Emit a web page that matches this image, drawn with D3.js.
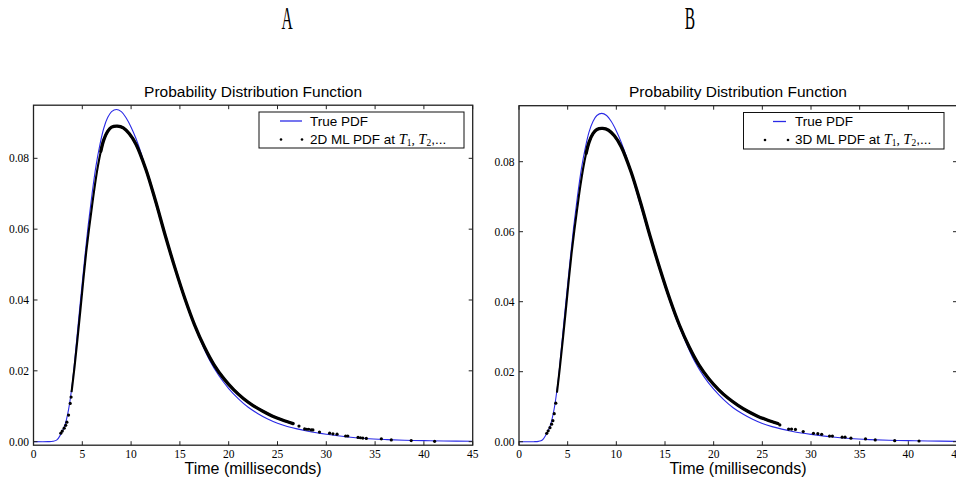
<!DOCTYPE html>
<html lang="en">
<head>
<meta charset="UTF-8">
<title>Probability Distribution Function</title>
<script src="https://d3js.org/d3.v7.min.js"></script>
<style>
  body { margin: 0; background: #fff; }
  svg { display: block; }
</style>
</head>
<body>
<svg id="chart" width="956" height="478"></svg>
<script>
// ---- data ----
const timeTicks = [0, 5, 10, 15, 20, 25, 30, 35, 40, 45];
const pdfTicks = [0, 0.02, 0.04, 0.06, 0.08];

// true PDF (same curve in both panels)
const trueT = [0, 1.5, 2.0, 2.4, 2.8, 3.2, 3.6, 4.0, 4.4, 4.8, 5.2, 5.6, 6.0, 6.4, 6.8, 7.2, 7.6, 8.0, 8.5, 9.0, 9.5, 10, 10.5, 11, 12, 13, 14, 15, 16, 17, 18, 19, 20, 21, 22, 23, 24, 25, 26, 27, 28, 29, 30, 32, 34, 36, 38, 40, 42, 45];
const trueV = [0, 0, 0.0001, 0.0005, 0.0021, 0.0045, 0.0092, 0.0170, 0.0280, 0.0395, 0.0505, 0.0610, 0.0700, 0.0778, 0.0838, 0.0885, 0.0915, 0.0932, 0.0938, 0.0932, 0.0914, 0.0888, 0.0856, 0.0817, 0.0722, 0.0626, 0.0533, 0.0443, 0.0362, 0.0293, 0.0232, 0.0186, 0.0150, 0.0121, 0.0097, 0.0079, 0.0064, 0.0052, 0.0043, 0.0036, 0.0030, 0.0025, 0.0021, 0.0014, 0.0009, 0.0006, 0.0004, 0.0003, 0.0002, 0.0001];

// ML estimate, dense part (samples so close they form a band)
const bandT = [3.9, 4.2, 4.5, 4.8, 5.1, 5.4, 5.7, 6.0, 6.3, 6.6, 6.9, 7.2, 7.6, 8.0, 8.6, 9.2, 9.8, 10.5, 11.5, 12.5, 13.5, 14.5, 15.5, 16.5, 17.5, 18.5, 19.5, 20.5, 21.5, 22.5, 23.5, 24.5, 25.5, 26.6];
const bandA = [0.0140, 0.0210, 0.0288, 0.0370, 0.0455, 0.0535, 0.0603, 0.0666, 0.0726, 0.0778, 0.0820, 0.0852, 0.0876, 0.0888, 0.0891, 0.0886, 0.0870, 0.0840, 0.0770, 0.0680, 0.0582, 0.0490, 0.0405, 0.0330, 0.0268, 0.0217, 0.0178, 0.0147, 0.0122, 0.0102, 0.0086, 0.0072, 0.0061, 0.0051];
const bandB = [0.0140, 0.0212, 0.0291, 0.0373, 0.0458, 0.0538, 0.0607, 0.0670, 0.0730, 0.0782, 0.0824, 0.0856, 0.0880, 0.0892, 0.0895, 0.0890, 0.0874, 0.0843, 0.0772, 0.0682, 0.0584, 0.0492, 0.0407, 0.0332, 0.0270, 0.0219, 0.0180, 0.0149, 0.0124, 0.0104, 0.0087, 0.0073, 0.0062, 0.0052];

// ML estimate, isolated samples (rising edge and tail)
const dotsAT = [2.80, 2.95, 3.14, 3.30, 3.42, 3.59, 3.76, 3.85, 27.2, 27.78, 28.0, 28.2, 28.46, 28.63, 29.3, 30.34, 30.68, 31.1, 31.98, 32.2, 33.25, 33.5, 33.74, 34.1, 35.64, 36.66, 38.7, 41.1];
const dotsAV = [0.0024, 0.0030, 0.0038, 0.0046, 0.0055, 0.0075, 0.0108, 0.0126, 0.0044, 0.0036, 0.0035, 0.0035, 0.0033, 0.0033, 0.0027, 0.0024, 0.0022, 0.0021, 0.0016, 0.0016, 0.0012, 0.0011, 0.0010, 0.0009, 0.0008, 0.0005, 0.0003, 0.0001];
const dotsBT = [2.85, 3.0, 3.18, 3.35, 3.48, 3.62, 3.78, 26.8, 27.7, 28.0, 28.4, 29.2, 30.25, 30.7, 31.1, 31.9, 32.2, 33.2, 33.5, 34.1, 35.6, 36.6, 38.6, 41.1];
const dotsBV = [0.0024, 0.0031, 0.0040, 0.0050, 0.0060, 0.0080, 0.0110, 0.0048, 0.0036, 0.0036, 0.0035, 0.0029, 0.0024, 0.0023, 0.0021, 0.0016, 0.0016, 0.0013, 0.0013, 0.0010, 0.0008, 0.0005, 0.0003, 0.0002];

const panels = [
  { tag: "A", tagX: 287, x0: 33.5, x1: 472.7, yTop: 0.095, band: bandA, dt: dotsAT, dv: dotsAV,
    label: "2D", legend: { x: 259, y: 112, w: 205, h: 36, l0: 280, l1: 302, h0: 281, h1: 302, tx: 310 } },
  { tag: "B", tagX: 690, x0: 519, x1: 957, yTop: 0.096, band: bandB, dt: dotsBT, dv: dotsBV,
    label: "3D", legend: { x: 743.5, y: 112.5, w: 200.5, h: 36.5, l0: 773, l1: 786, h0: 765, h1: 788, tx: 795 } }
];

const svg = d3.select("#chart");
const yBottom = 445.2;
const serif = "'Liberation Serif', 'DejaVu Serif', serif";
const sans = "'Liberation Sans', Arial, sans-serif";
const blue = "#2a2ae6";

panels.forEach((p, i) => {
  const x = d3.scaleLinear().domain([0, 45]).range([p.x0, p.x1]);
  const y = d3.scaleLinear().domain([-0.001, p.yTop]).range([yBottom, i === 0 ? 105.2 : 105.7]);
  const top = y.range()[1];
  const g = svg.append("g");
  const line = d3.line().x(d => x(d[0])).y(d => y(d[1])).curve(d3.curveCatmullRom.alpha(0.5));

  // panel letter
  g.append("text")
    .attr("transform", `translate(${p.tagX},29) scale(0.5,1)`)
    .attr("text-anchor", "middle")
    .style("font-family", serif).style("font-size", "31px")
    .text(p.tag);

  const clipId = "clip" + i;
  svg.append("clipPath").attr("id", clipId).append("rect")
    .attr("x", p.x0).attr("y", top).attr("width", p.x1 - p.x0).attr("height", yBottom - top);

  const plot = g.append("g").attr("clip-path", `url(#${clipId})`);

  // true pdf
  plot.append("path")
    .datum(trueT.map((t, k) => [t, trueV[k]]))
    .attr("fill", "none").attr("stroke", blue).attr("stroke-width", 1.1)
    .attr("d", line);

  // ML band: thinner along the rising edge, heavier from the peak on
  const bandData = bandT.map((t, k) => [t, p.band[k]]);
  plot.append("path")
    .datum(bandData)
    .attr("fill", "none").attr("stroke", "#000").attr("stroke-width", 2.1)
    .attr("d", line);
  plot.append("path")
    .datum(bandData.filter(d => d[0] >= 6.9))
    .attr("fill", "none").attr("stroke", "#000").attr("stroke-width", 3.3)
    .attr("stroke-linecap", "round")
    .attr("d", line);

  // ML isolated samples
  plot.append("g").selectAll("circle")
    .data(p.dt.map((t, k) => [t, p.dv[k]]))
    .join("circle")
    .attr("cx", d => x(d[0])).attr("cy", d => y(d[1])).attr("r", 1.6)
    .attr("fill", "#000");

  // frame
  g.append("rect")
    .attr("x", p.x0).attr("y", top).attr("width", p.x1 - p.x0).attr("height", yBottom - top)
    .attr("fill", "none").attr("stroke", "#222").attr("stroke-width", 1.3);

  // ticks (inside, all four sides)
  const tk = 4;
  timeTicks.forEach(t => {
    g.append("line").attr("x1", x(t)).attr("x2", x(t)).attr("y1", yBottom).attr("y2", yBottom - tk)
      .attr("stroke", "#222");
    g.append("line").attr("x1", x(t)).attr("x2", x(t)).attr("y1", top).attr("y2", top + tk)
      .attr("stroke", "#222");
    g.append("text")
      .attr("x", x(t)).attr("y", 457.5).attr("text-anchor", "middle")
      .style("font-family", serif).style("font-size", "11.5px")
      .text(t);
  });
  pdfTicks.forEach(v => {
    g.append("line").attr("x1", p.x0).attr("x2", p.x0 + tk).attr("y1", y(v)).attr("y2", y(v))
      .attr("stroke", "#222");
    g.append("line").attr("x1", p.x1).attr("x2", p.x1 - tk).attr("y1", y(v)).attr("y2", y(v))
      .attr("stroke", "#222");
    g.append("text")
      .attr("x", p.x0 - 4.5).attr("y", y(v)).attr("dy", "0.35em").attr("text-anchor", "end")
      .style("font-family", serif).style("font-size", "11.5px")
      .text(d3.format(".2f")(v));
  });

  const cx = (p.x0 + p.x1) / 2;
  g.append("text").attr("x", cx).attr("y", 97).attr("text-anchor", "middle")
    .style("font-family", sans).style("font-size", "15.5px")
    .text("Probability Distribution Function");
  g.append("text").attr("x", cx).attr("y", 474).attr("text-anchor", "middle")
    .style("font-family", sans).style("font-size", "16px")
    .text("Time (milliseconds)");

  // legend
  const L = p.legend;
  g.append("rect").attr("x", L.x).attr("y", L.y).attr("width", L.w).attr("height", L.h)
    .attr("fill", "#fff").attr("stroke", "#111").attr("stroke-width", 1);
  g.append("line").attr("x1", L.l0).attr("x2", L.l1).attr("y1", L.y + 9).attr("y2", L.y + 9)
    .attr("stroke", blue).attr("stroke-width", 1.3);
  g.append("text").attr("x", L.tx).attr("y", L.y + 13.5)
    .style("font-family", sans).style("font-size", "13.5px").text("True PDF");
  [L.h0, L.h1].forEach(hx => {
    g.append("circle").attr("cx", hx).attr("cy", L.y + 27.5).attr("r", 1.3).attr("fill", "#000");
  });
  const lt = g.append("text").attr("x", L.tx).attr("y", L.y + 31.5)
    .style("font-family", sans).style("font-size", "13.5px");
  lt.append("tspan").text(p.label + " ML PDF at ");
  lt.append("tspan").style("font-family", serif).style("font-style", "italic").style("font-size", "14.5px").text("T");
  lt.append("tspan").style("font-family", serif).style("font-size", "9.5px").attr("dy", 2).text("1");
  lt.append("tspan").style("font-family", serif).attr("dy", -2).text(", ");
  lt.append("tspan").style("font-family", serif).style("font-style", "italic").style("font-size", "14.5px").text("T");
  lt.append("tspan").style("font-family", serif).style("font-size", "9.5px").attr("dy", 2).text("2");
  lt.append("tspan").attr("dy", -2).text(",...");
});
</script>
</body>
</html>
